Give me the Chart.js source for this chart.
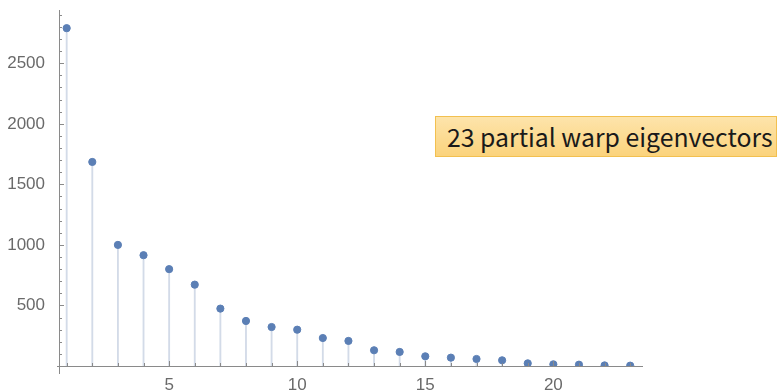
<!DOCTYPE html>
<html>
<head>
<meta charset="utf-8">
<script src="https://cdn.jsdelivr.net/npm/chart.js@4/dist/chart.umd.min.js"></script>
<style>
  html, body { margin: 0; padding: 0; background: #fff; }
  #wrap { position: relative; width: 782px; height: 390px; }
  #note {
    position: absolute; left: 435px; top: 116px; width: 342px; height: 41px;
    box-sizing: border-box; border: 1px solid #f2c050;
    background: linear-gradient(#fde4ab, #fbd37c);
    font-family: "Noto Sans CJK JP", "Noto Sans", sans-serif;
    font-size: 24.8px; line-height: 39px; color: #1a1a1a; padding-left: 11px;
    white-space: nowrap;
  }
</style>
</head>
<body>
<div id="wrap">
  <canvas id="chart" width="782" height="390"></canvas>
  <div id="note">23 partial warp eigenvectors</div>
</div>
<script>
// eigenvalue per partial warp
const indices = [1,2,3,4,5,6,7,8,9,10,11,12,13,14,15,16,17,18,19,20,21,22,23];
const values = [2790,1685,1000,915,800,672,474,372,322,300,231,207,130,116,80,69,58,47,22,14,11,5,3];
const xTickLabels = [5,10,15,20];
const yTickLabels = [500,1000,1500,2000,2500];

const axisColor = '#8a8a8a';
const labelColor = '#6a6a6a';
const tickFont = { family: "'Liberation Sans', Arial, sans-serif", size: 17 };

// Mathematica style inward ticks: minor every 1 on x, every 100 on y
const innerTicks = {
    id: 'innerTicks',
    afterDraw(chart) {
        const ctx = chart.ctx;
        const xs = chart.scales.x, ys = chart.scales.y;
        const x0 = xs.left, y0 = ys.bottom;
        ctx.save();
        ctx.strokeStyle = axisColor;
        ctx.lineWidth = 1;
        ctx.beginPath();
        // axes
        ctx.moveTo(x0 - 2, y0 + 0.5); ctx.lineTo(xs.right, y0 + 0.5);
        ctx.moveTo(x0 + 0.5, ys.top); ctx.lineTo(x0 + 0.5, y0 + 8);
        for (let v = 1; v <= 23; v++) {
            const px = Math.round(xs.getPixelForValue(v)) + 0.5;
            const len = v % 5 === 0 ? 5 : 3;
            ctx.moveTo(px, y0); ctx.lineTo(px, y0 - len);
        }
        for (let v = 100; v <= 2900; v += 100) {
            const py = Math.round(ys.getPixelForValue(v)) + 0.5;
            const len = v % 500 === 0 ? 5 : 3;
            ctx.moveTo(x0, py); ctx.lineTo(x0 + len, py);
        }
        ctx.stroke();
        ctx.restore();
    }
};

new Chart(document.getElementById('chart'), {
    data: {
        datasets: [
            {
                type: 'bar',
                data: indices.map((x, i) => ({ x: x, y: values[i] })),
                backgroundColor: '#d3dbe8',
                barThickness: 1.2,
                order: 2
            },
            {
                type: 'scatter',
                data: indices.map((x, i) => ({ x: x, y: values[i] })),
                backgroundColor: '#5b7fb5',
                borderColor: '#5b7fb5',
                pointRadius: 3.6,
                order: 1
            }
        ]
    },
    options: {
        responsive: false,
        animation: false,
        layout: { padding: { top: 10, right: 139, left: 0, bottom: 0 } },
        plugins: { legend: { display: false }, tooltip: { enabled: false } },
        scales: {
            x: {
                type: 'linear',
                offset: false,
                min: 0.7,
                max: 23.5,
                grid: { display: false, offset: false },
                border: { display: false },
                afterBuildTicks: s => { s.ticks = xTickLabels.map(v => ({ value: v })); },
                afterFit: s => { s.height = 24; s.paddingLeft = 0; s.paddingRight = 0; },
                ticks: { color: labelColor, padding: 1, font: tickFont, callback: v => String(v) }
            },
            y: {
                min: 0,
                max: 2940,
                grid: { display: false },
                border: { display: false },
                afterBuildTicks: s => { s.ticks = yTickLabels.map(v => ({ value: v })); },
                afterFit: s => { s.width = 59; s.paddingTop = 0; s.paddingBottom = 0; },
                ticks: { color: labelColor, padding: 6, font: tickFont, callback: v => String(v) }
            }
        }
    },
    plugins: [innerTicks]
});
</script>
</body>
</html>
